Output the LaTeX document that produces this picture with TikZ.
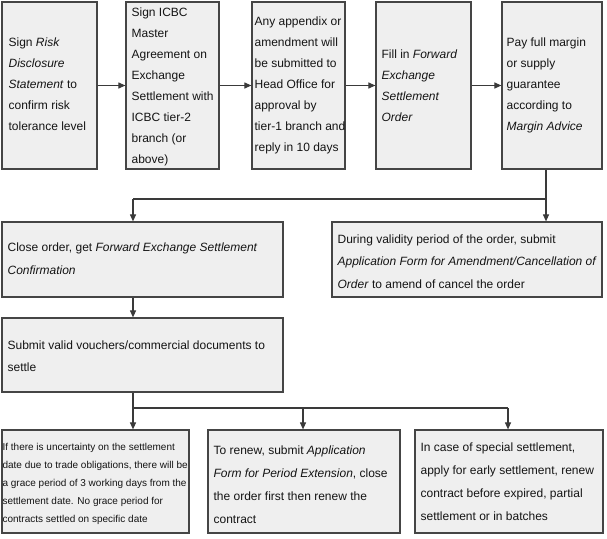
\documentclass[tikz,border=0pt]{standalone}
\usepackage{fontspec}
\setmainfont{Liberation Sans}
\usetikzlibrary{arrows.meta}
\definecolor{boxfill}{HTML}{EFEFEF}
\definecolor{boxline}{HTML}{454545}
\definecolor{conn}{HTML}{3A3A3A}
\begin{document}
\begin{tikzpicture}[x=1pt,y=-1pt,
  stepbox/.style={draw=boxline,fill=boxfill,line width=1.2pt,inner sep=0pt},
  txt/.style={anchor=west,inner sep=0pt,align=left,text=black!92},
  topfont/.style={font=\fontsize{12}{21}\selectfont},
  midfont/.style={font=\fontsize{12}{22.5}\selectfont},
  botfont/.style={font=\fontsize{12}{23}\selectfont},
  smallfont/.style={font=\fontsize{10}{18}\selectfont},
  conline/.style={draw=conn,line width=1.1pt},
  arr/.style={conline,-{Triangle[length=7pt,width=6pt]}}]
\useasboundingbox (0,0) rectangle (607,538);
% top row boxes
\node[stepbox,minimum width=95pt,minimum height=167pt] (b1) at (49.5,85.5) {};
\node[stepbox,minimum width=93pt,minimum height=167pt] (b2) at (172.5,85.5) {};
\node[stepbox,minimum width=93pt,minimum height=167pt] (b3) at (298.5,85.5) {};
\node[stepbox,minimum width=95pt,minimum height=167pt] (b4) at (423.5,85.5) {};
\node[stepbox,minimum width=100pt,minimum height=167pt] (b5) at (552,85.5) {};
% middle boxes
\node[stepbox,minimum width=281pt,minimum height=75pt] (close) at (142.5,259.5) {};
\node[stepbox,minimum width=270pt,minimum height=75pt] (during) at (467,259.5) {};
\node[stepbox,minimum width=281pt,minimum height=74pt] (submit) at (142.5,355) {};
% bottom boxes
\node[stepbox,minimum width=187pt,minimum height=103pt] (ba) at (95.5,481.5) {};
\node[stepbox,minimum width=192pt,minimum height=103pt] (bb) at (304,481.5) {};
\node[stepbox,minimum width=188pt,minimum height=103pt] (bc) at (509,481.5) {};
% texts
\node[txt,topfont] (t1) at ([xshift=7pt,yshift=1pt]b1.west)
 {Sign \textit{Risk}\\\textit{Disclosure}\\\textit{Statement} to\\confirm risk\\tolerance level};
\node[txt,topfont] (t2) at ([xshift=6pt,yshift=-1pt]b2.west)
 {Sign ICBC\\Master\\Agreement on\\Exchange\\Settlement with\\ICBC tier-2\\branch (or\\above)};
\node[txt,topfont] (t3) at ([xshift=3pt]b3.west)
 {Any appendix or\\amendment will\\be submitted to\\Head Office for\\approval by\\tier-1 branch and\\reply in 10 days};
\node[txt,topfont] (t4) at ([xshift=6pt]b4.west)
 {Fill in \textit{Forward}\\\textit{Exchange}\\\textit{Settlement}\\\textit{Order}};
\node[txt,topfont] (t5) at ([xshift=5pt]b5.west)
 {Pay full margin\\or supply\\guarantee\\according to\\\textit{Margin Advice}};
\node[txt,midfont] (tc) at ([xshift=6pt,yshift=1pt]close.west)
 {Close order, get \textit{Forward Exchange Settlement}\\\textit{Confirmation}};
\node[txt,midfont] (td) at ([xshift=6pt,yshift=-2pt]during.west)
 {During validity period of the order, submit\\\textit{Application Form for Amendment/Cancellation of}\\\textit{Order} to amend of cancel the order};
\node[txt,midfont] (ts) at ([xshift=6pt,yshift=-1pt]submit.west)
 {Submit valid vouchers/commercial documents to\\settle};
\node[txt,smallfont] (ta) at ([xshift=1pt,yshift=-2pt]ba.west)
 {If there is uncertainty on the settlement\\date due to trade obligations, there will be\\a grace period of 3 working days from the\\settlement date. No grace period for\\contracts settled on specific date};
\node[txt,botfont] (tb) at ([xshift=6pt,yshift=-3pt]bb.west)
 {To renew, submit \textit{Application}\\\textit{Form for Period Extension}, close\\the order first then renew the\\contract};
\node[txt,botfont] (tcc) at ([xshift=6pt]bc.west)
 {In case of special settlement,\\apply for early settlement, renew\\contract before expired, partial\\settlement or in batches};
% connectors top row
\draw[arr] (b1) -- (b2);
\draw[arr] (b2) -- (b3);
\draw[arr] (b3) -- (b4);
\draw[arr] (b4) -- (b5);
% split from b5
\coordinate (s1) at (546,199);
\coordinate (s1l) at (133,199);
\draw[conline] (b5.south -| s1) -- (s1) -- (s1l);
\draw[arr] (s1) -- (s1 |- during.north);
\draw[arr] (s1l) -- (s1l |- close.north);
\draw[arr] (close.south -| s1l) -- (submit.north -| s1l);
% split from submit
\coordinate (s2) at (133,408);
\coordinate (s2m) at (303,408);
\coordinate (s2r) at (508,408);
\draw[conline] (submit.south -| s2) -- (s2) -- (s2r);
\draw[arr] (s2) -- (s2 |- ba.north);
\draw[arr] (s2m) -- (s2m |- bb.north);
\draw[arr] (s2r) -- (s2r |- bc.north);
\end{tikzpicture}
\end{document}
